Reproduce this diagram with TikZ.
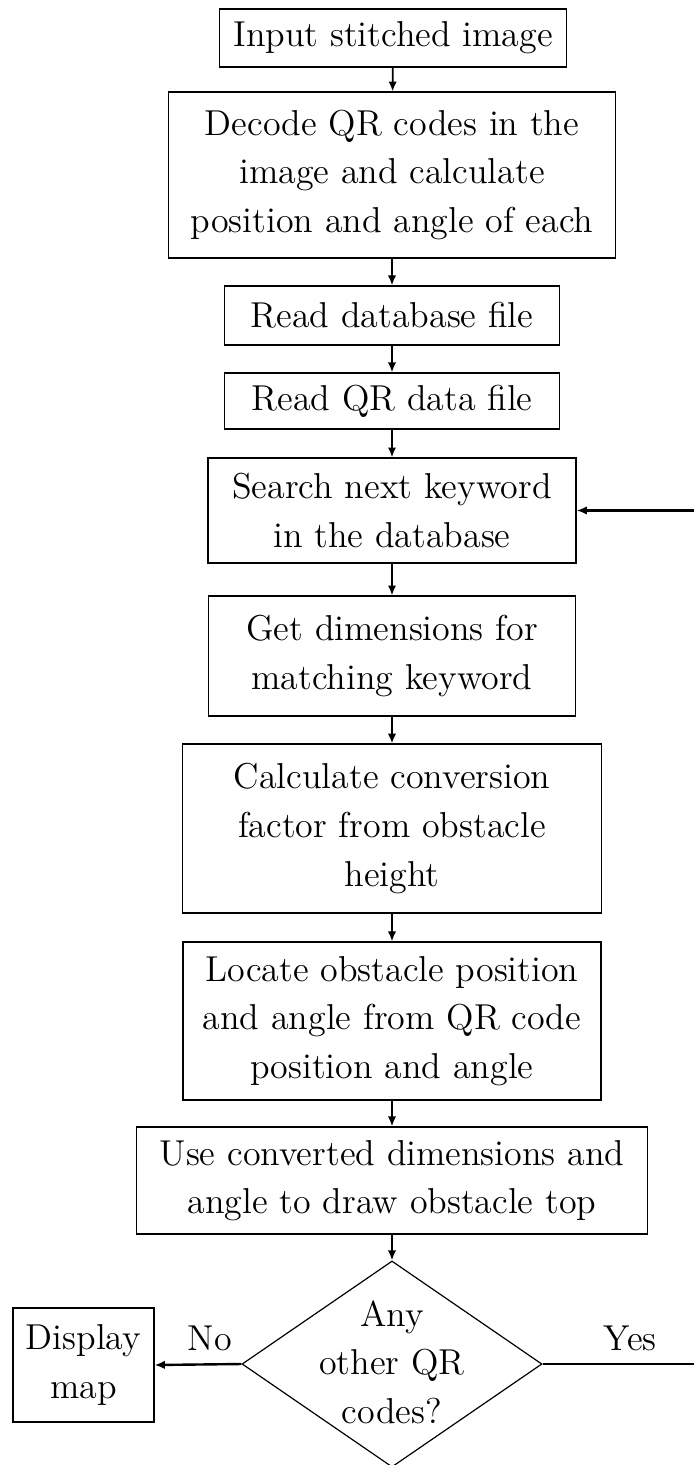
\documentclass[tikz,border=0pt]{standalone}
\usetikzlibrary{arrows.meta,shapes.geometric}
\begin{document}
\begin{tikzpicture}[
  x=0.33333pt, y=-0.33333pt,
  txt/.style={font=\fontsize{12}{16.2}\selectfont, align=center},
  box/.style={txt, draw, line width=0.4pt, inner sep=0pt},
  flow/.style={-{Latex[length=3.3pt,width=2.8pt]}, line width=0.6pt},
  side/.style={-{Latex[length=3.4pt,width=2.8pt]}, line width=0.8pt},
]
\useasboundingbox (0,0) rectangle (694,1465);

% main column of process steps
\node[box, minimum width=115.7pt, minimum height=19.3pt] (input)  at (393,38)
  {Input stitched image};
\node[box, minimum width=149pt,   minimum height=55.3pt] (decode) at (392,175)
  {Decode QR codes in the\\image and calculate\\position and angle of each};
\node[box, minimum width=111.7pt, minimum height=19.7pt] (readdb) at (392,315.5)
  {Read database file};
\node[box, minimum width=111.7pt, minimum height=18.7pt] (readqr) at (392,401)
  {Read QR data file};
\node[box, minimum width=122.7pt, minimum height=35pt]   (search) at (392,510.5)
  {Search next keyword\\in the database};
\node[box, minimum width=122.3pt, minimum height=40pt]   (getdim) at (392,656)
  {Get dimensions for\\matching keyword};
\node[box, minimum width=139.7pt, minimum height=56.3pt] (conv)   at (392,828.5)
  {Calculate conversion\\factor from obstacle\\height};
\node[box, minimum width=139.3pt, minimum height=52.7pt] (locate) at (392,1021)
  {Locate obstacle position\\and angle from QR code\\position and angle};
\node[box, minimum width=170.3pt, minimum height=35.7pt] (draw)   at (392,1180.5)
  {Use converted dimensions and\\angle to draw obstacle top};

% decision and end step
\node[draw, line width=0.4pt, diamond, inner sep=0pt,
      minimum width=100pt, minimum height=68.7pt] (dec) at (392,1364) {};
\node[txt, anchor=center] (dectext) at (392,1362) {Any\\other QR\\codes?};
\node[box, minimum width=47pt, minimum height=38pt] (disp) at (83.5,1365)
  {Display\\map};

% connectors down the column
\draw[flow] (input)  -- (decode);
\draw[flow] (decode) -- (readdb);
\draw[flow] (readdb) -- (readqr);
\draw[flow] (readqr) -- (search);
\draw[flow] (search) -- (getdim);
\draw[flow] (getdim) -- (conv);
\draw[flow] (conv)   -- (locate);
\draw[flow] (locate) -- (draw);
\draw[flow] (draw)   -- (dec);

% branches of the decision and the loop back
\coordinate (yesend) at (694,1364);
\coordinate (backin) at (694,510.5);
\draw[side] (dec.west) -- (disp.east);
\draw[line width=0.8pt] (dec.east) -- (yesend);
\draw[side] (backin) -- (search.east);
\node[txt] (nolbl)  at (210,1338) {No};
\node[txt] (yeslbl) at (630,1338) {Yes};
\end{tikzpicture}
\end{document}
